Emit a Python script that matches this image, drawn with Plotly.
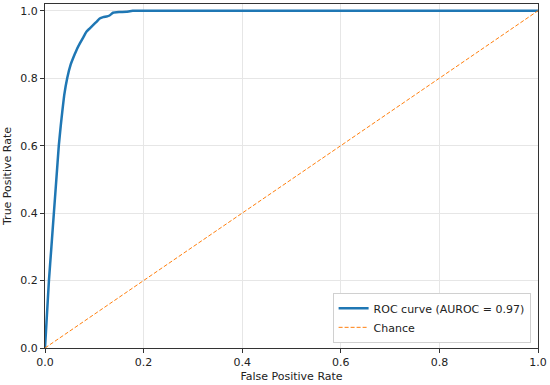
import plotly.graph_objects as go

fpr = [0, 0.002, 0.004, 0.008, 0.013, 0.018, 0.023, 0.028, 0.032, 0.035, 0.039, 0.045, 0.052,
       0.060, 0.066, 0.071, 0.078, 0.084, 0.091, 0.098, 0.105, 0.111, 0.118, 0.125, 0.131,
       0.138, 0.150, 0.165, 0.178, 1.0]
tpr = [0, 0.05, 0.10, 0.20, 0.30, 0.40, 0.50, 0.60, 0.66, 0.70, 0.75, 0.80, 0.84,
       0.87, 0.89, 0.904, 0.922, 0.938, 0.948, 0.958, 0.968, 0.977, 0.981, 0.983, 0.986,
       0.994, 0.996, 0.997, 1.0, 1.0]
chance = [0, 1]
tick_vals = [0, 0.2, 0.4, 0.6, 0.8, 1.0]
tick_text = ["0.0", "0.2", "0.4", "0.6", "0.8", "1.0"]

fig = go.Figure()
fig.add_trace(go.Scatter(x=fpr, y=tpr, mode="lines", name="ROC curve (AUROC = 0.97)",
                         line=dict(color="#1f77b4", width=2.5, shape="spline", smoothing=0.3)))
fig.add_trace(go.Scatter(x=chance, y=chance, mode="lines", name="Chance",
                         line=dict(color="#ff7f0e", width=1, dash="4px,2px")))

axis_common = dict(showline=True, linecolor="#333333", linewidth=1, mirror=True,
                   ticks="outside", ticklen=4, tickcolor="#333333",
                   showgrid=True, gridcolor="#e6e6e6", gridwidth=1, zeroline=False,
                   tickvals=tick_vals, ticktext=tick_text,
                   tickfont=dict(family="DejaVu Sans", size=11, color="#222222"))

fig.update_layout(
    width=550, height=385,
    margin=dict(l=45, r=10, t=3, b=37),
    paper_bgcolor="white", plot_bgcolor="white",
    font=dict(family="DejaVu Sans", size=11, color="#222222"),
    xaxis=dict(range=[0, 1], title=dict(text="False Positive Rate", standoff=4,
               font=dict(size=11)), **axis_common),
    yaxis=dict(range=[0, 1.02], title=dict(text="True Positive Rate", standoff=6,
               font=dict(size=11)), **axis_common),
    legend=dict(x=0.985, y=0.015, xanchor="right", yanchor="bottom",
                bgcolor="white", bordercolor="#d0d0d0", borderwidth=1,
                font=dict(size=11), tracegroupgap=0),
    showlegend=True,
)

fig.write_html("out.html", config={"displayModeBar": False},
               post_script="document.body.style.margin='0';")
